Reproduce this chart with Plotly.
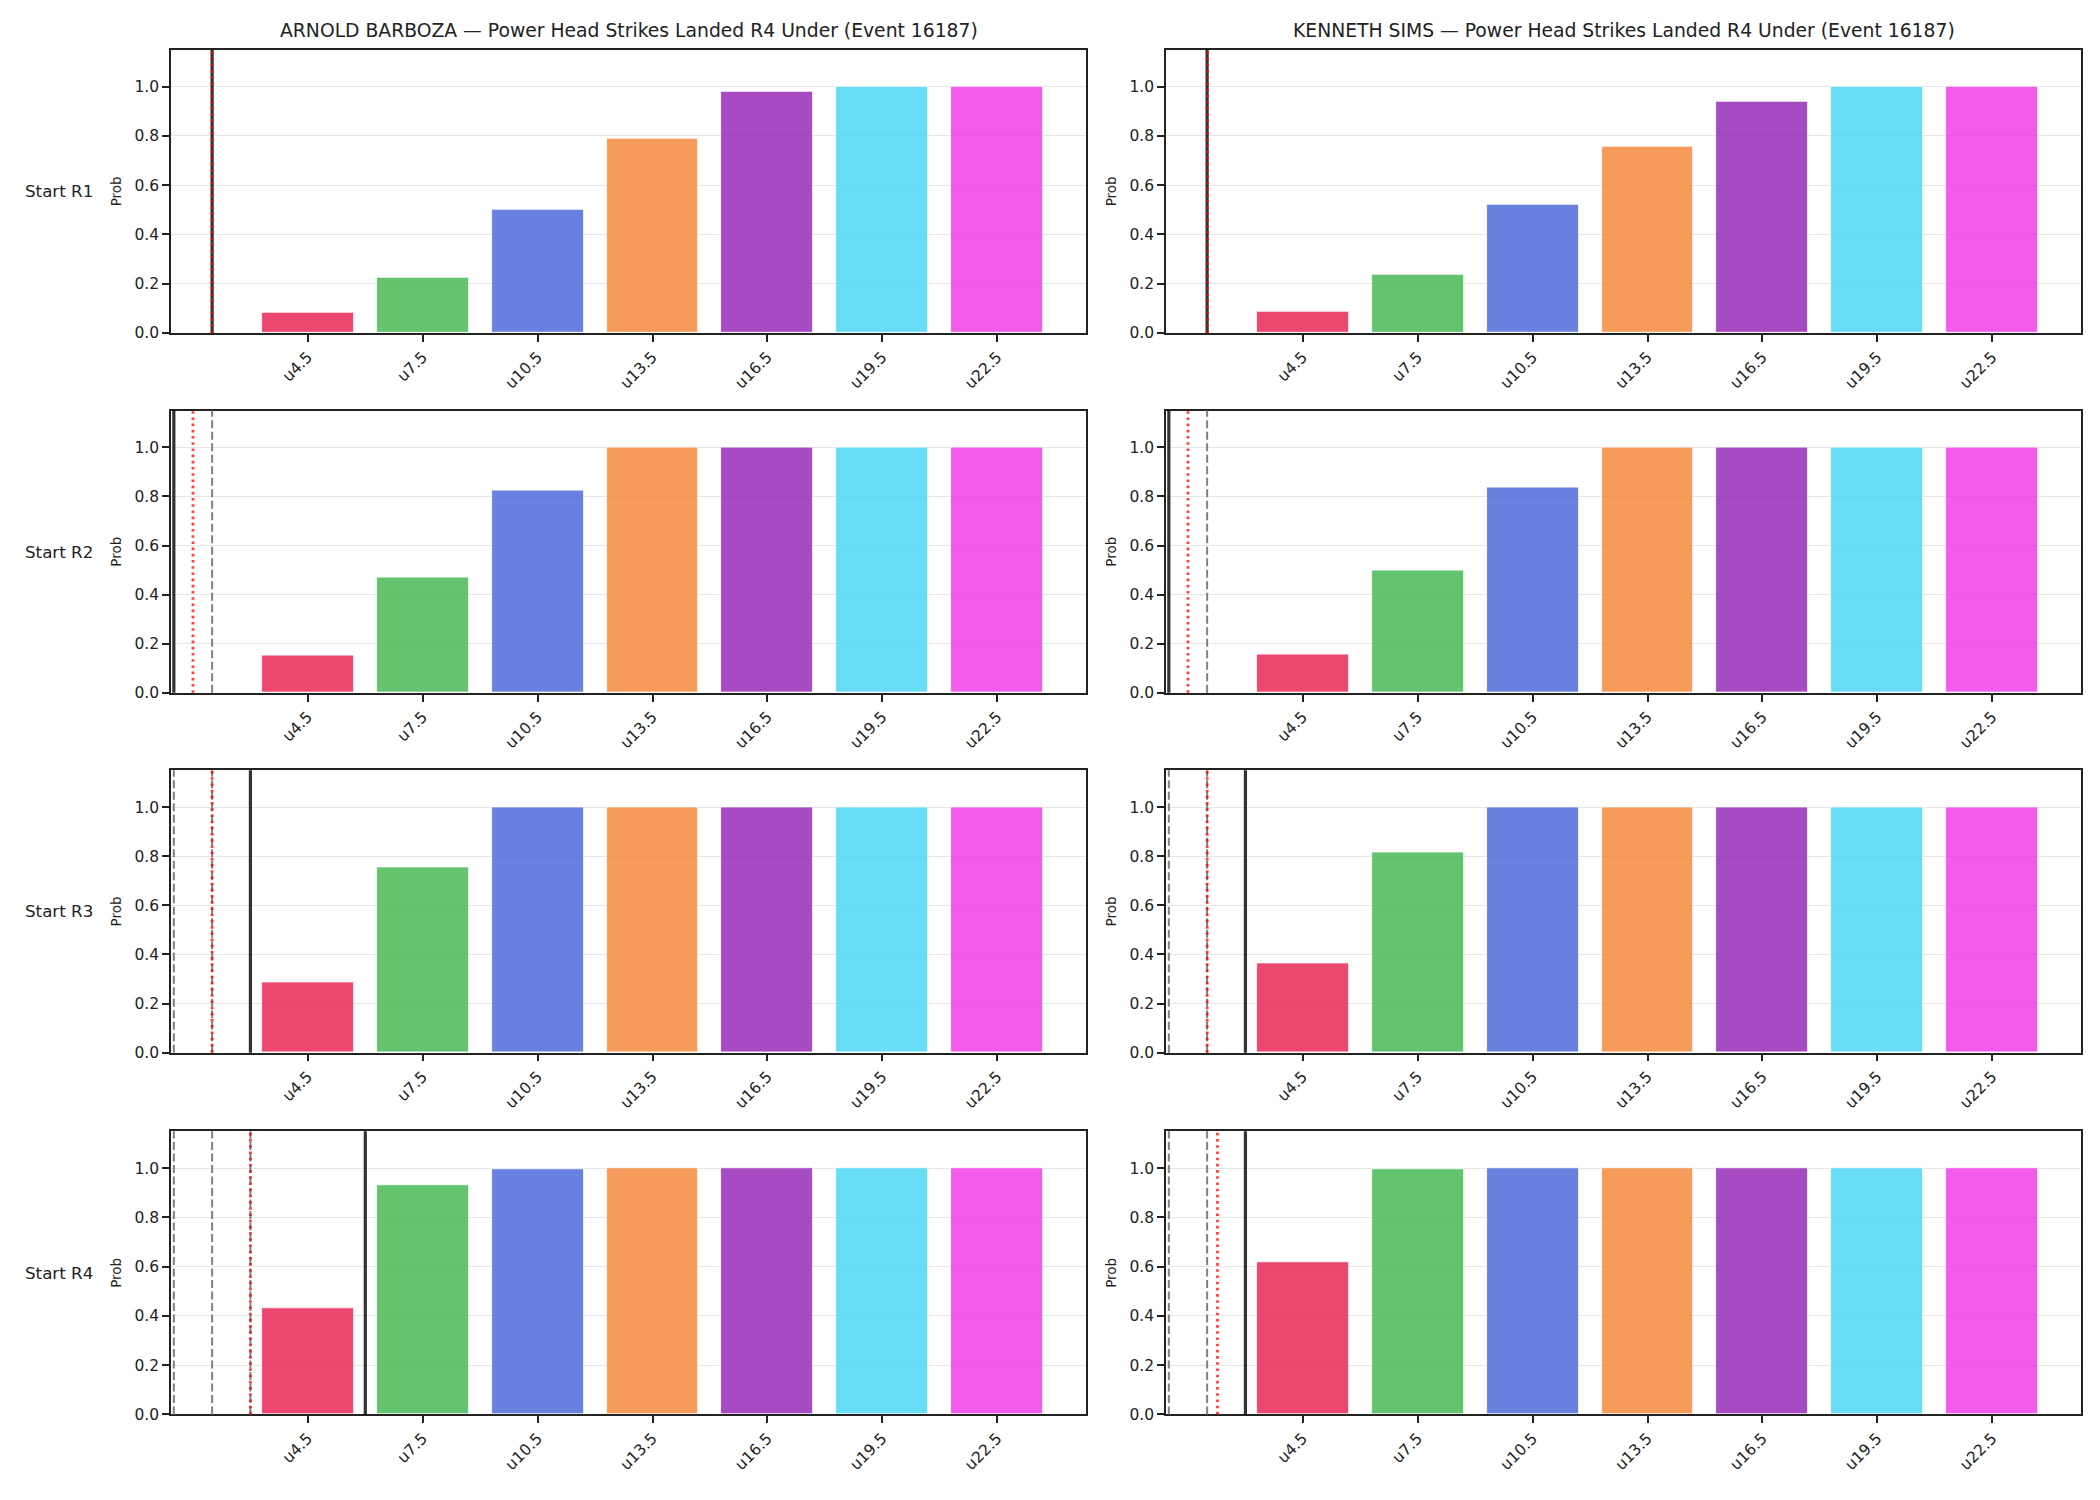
import plotly.graph_objects as go
from plotly.subplots import make_subplots

thresholds = [4.5, 7.5, 10.5, 13.5, 16.5, 19.5, 22.5]
tick_labels = ["u4.5", "u7.5", "u10.5", "u13.5", "u16.5", "u19.5", "u22.5"]
fighters = ["ARNOLD BARBOZA", "KENNETH SIMS"]
row_labels = ["Start R1", "Start R2", "Start R3", "Start R4"]
bar_colors = ["#e6194b", "#3cb44b", "#4363d8", "#f58231", "#911eb4", "#42d4f4", "#f032e6"]

barboza_r1 = [0.084, 0.225, 0.501, 0.788, 0.979, 0.999, 1.0]
barboza_r2 = [0.152, 0.470, 0.826, 0.998, 1.0, 1.0, 1.0]
barboza_r3 = [0.288, 0.754, 0.998, 1.0, 1.0, 1.0, 1.0]
barboza_r4 = [0.431, 0.931, 0.997, 1.0, 1.0, 1.0, 1.0]
sims_r1 = [0.087, 0.238, 0.522, 0.757, 0.939, 0.999, 1.0]
sims_r2 = [0.155, 0.499, 0.836, 0.998, 1.0, 1.0, 1.0]
sims_r3 = [0.365, 0.818, 0.998, 1.0, 1.0, 1.0, 1.0]
sims_r4 = [0.620, 0.997, 1.0, 1.0, 1.0, 1.0, 1.0]

# reference lines (in strike units) per panel
barboza_gray = [[], [2], [1, 2], [1, 2, 3]]
barboza_black = [2, 1, 3, 6]
barboza_red = [2, 1.5, 2, 3]
sims_gray = [[], [2], [1, 2], [1, 2]]
sims_black = [2, 1, 3, 3]
sims_red = [2, 1.5, 2, 2.27]

values = [[barboza_r1, barboza_r2, barboza_r3, barboza_r4],
          [sims_r1, sims_r2, sims_r3, sims_r4]]
grays = [barboza_gray, sims_gray]
blacks = [barboza_black, sims_black]
reds = [barboza_red, sims_red]

W, H = 2100, 1500
FONT = "DejaVu Sans"
INK = "#222222"

def rgba(hexc, a):
    h = hexc.lstrip("#")
    r, g, b = int(h[0:2], 16), int(h[2:4], 16), int(h[4:6], 16)
    return f"rgba({r},{g},{b},{a})"

fig = make_subplots(rows=4, cols=2)

col_x = [(171, 1086), (1166, 2081)]
row_y = [(50, 335), (413, 697), (775, 1059), (1138, 1423)]

for c in range(2):
    for r in range(4):
        fig.add_trace(go.Bar(
            x=thresholds, y=values[c][r], width=2.4,
            marker=dict(color=[rgba(k, 0.8) for k in bar_colors],
                        line=dict(color="white", width=0.8)),
            showlegend=False, hoverinfo="x+y"), row=r + 1, col=c + 1)
        for g in grays[c][r]:
            fig.add_vline(x=g, row=r + 1, col=c + 1,
                          line=dict(color="rgba(128,128,128,1)", width=2, dash="8px,3.5px"))
        fig.add_vline(x=blacks[c][r], row=r + 1, col=c + 1,
                      line=dict(color="rgba(0,0,0,0.8)", width=3.2))
        fig.add_vline(x=reds[c][r], row=r + 1, col=c + 1,
                      line=dict(color="rgba(255,0,0,0.75)", width=2.8, dash="2.6px,3.6px"))

for c in range(2):
    for r in range(4):
        idx = r * 2 + c + 1
        xa = "xaxis" if idx == 1 else f"xaxis{idx}"
        ya = "yaxis" if idx == 1 else f"yaxis{idx}"
        x0, x1 = col_x[c]
        y0, y1 = row_y[r]
        fig.layout[xa].update(
            domain=[x0 / W, x1 / W], range=[0.926, 24.82],
            tickmode="array", tickvals=thresholds, ticktext=tick_labels,
            tickangle=-45, ticks="outside", ticklen=7, tickwidth=1.7, tickcolor=INK,
            showline=True, linecolor=INK, linewidth=1.7, mirror=True,
            showgrid=False, zeroline=False,
            tickfont=dict(family=FONT, size=15.5, color=INK))
        fig.layout[ya].update(
            domain=[1 - y1 / H, 1 - y0 / H], range=[0, 1.15],
            tickmode="array", tickvals=[0, 0.2, 0.4, 0.6, 0.8, 1.0],
            ticktext=["0.0", "0.2", "0.4", "0.6", "0.8", "1.0"],
            ticks="outside", ticklen=7, tickwidth=1.7, tickcolor=INK,
            showline=True, linecolor=INK, linewidth=1.7, mirror=True,
            showgrid=True, gridcolor="#e6e6e6", gridwidth=1, zeroline=False,
            tickfont=dict(family=FONT, size=15.5, color=INK))
        # Prob label
        fig.add_annotation(text="Prob", xref="paper", yref="paper",
                           x=(x0 - 55) / W, y=1 - ((y0 + y1) / 2) / H,
                           xanchor="center", yanchor="middle", textangle=-90,
                           showarrow=False, font=dict(family=FONT, size=13.5, color=INK))

for c in range(2):
    x0, x1 = col_x[c]
    fig.add_annotation(
        text=f"{fighters[c]} — Power Head Strikes Landed R4 Under (Event 16187)",
        xref="paper", yref="paper", x=((x0 + x1) / 2) / W, y=1 - 31 / H,
        xanchor="center", yanchor="middle", showarrow=False,
        font=dict(family=FONT, size=18.75, color=INK))

for r in range(4):
    y0, y1 = row_y[r]
    fig.add_annotation(text=row_labels[r], xref="paper", yref="paper",
                       x=23 / W, y=1 - ((y0 + y1) / 2) / H,
                       xanchor="left", yanchor="middle", showarrow=False,
                       font=dict(family=FONT, size=16.7, color=INK))

fig.update_layout(width=W, height=H, margin=dict(l=0, r=0, t=0, b=0),
                  paper_bgcolor="white", plot_bgcolor="white",
                  font=dict(family=FONT, color=INK), bargap=0)

fig.write_html("out.html")
